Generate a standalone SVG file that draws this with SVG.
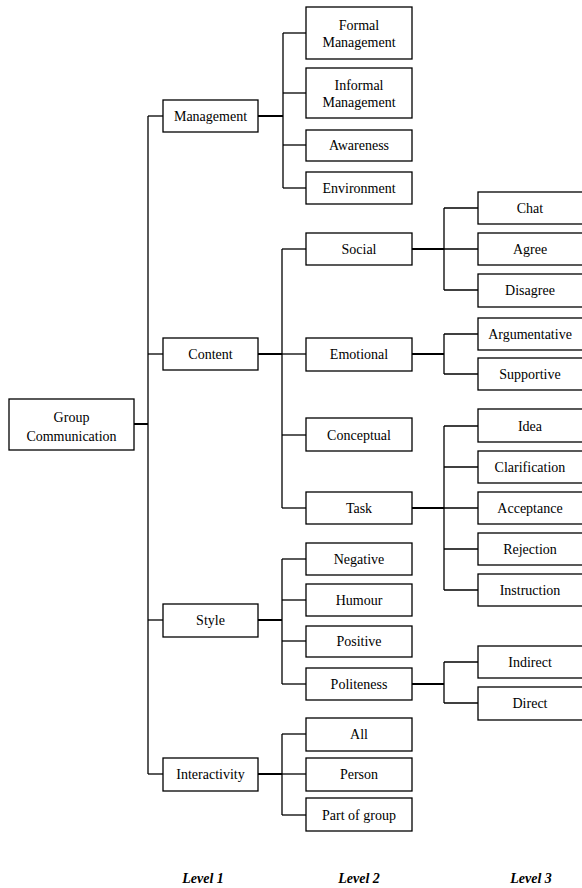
<svg xmlns="http://www.w3.org/2000/svg" width="582" height="888" viewBox="0 0 582 888">
<style>
rect{fill:#fff;stroke:#000;stroke-width:1.3}
text{font-family:"Liberation Serif","Times New Roman",serif;font-size:14px;fill:#000;text-anchor:middle}
.c line{stroke:#000;stroke-width:1.3}
.c .t{stroke-width:2}
.lv{font-weight:bold;font-style:italic}
</style>
<g class="c" id="connectors">
<line x1="148" y1="116" x2="148" y2="774"/>
<line class="t" x1="134" y1="424" x2="148" y2="424"/>
<line x1="148" y1="116" x2="163" y2="116"/>
<line x1="148" y1="354" x2="163" y2="354"/>
<line x1="148" y1="620" x2="163" y2="620"/>
<line x1="148" y1="774" x2="163" y2="774"/>
<line x1="283" y1="33" x2="283" y2="188"/>
<line class="t" x1="258" y1="116" x2="283" y2="116"/>
<line x1="283" y1="33" x2="306" y2="33"/>
<line x1="283" y1="93" x2="306" y2="93"/>
<line x1="283" y1="145" x2="306" y2="145"/>
<line x1="283" y1="188" x2="306" y2="188"/>
<line x1="282" y1="249" x2="282" y2="508"/>
<line class="t" x1="258" y1="354" x2="282" y2="354"/>
<line x1="282" y1="249" x2="306" y2="249"/>
<line x1="282" y1="354" x2="306" y2="354"/>
<line x1="282" y1="435" x2="306" y2="435"/>
<line x1="282" y1="508" x2="306" y2="508"/>
<line x1="444" y1="208" x2="444" y2="290"/>
<line class="t" x1="412" y1="249" x2="444" y2="249"/>
<line x1="444" y1="208" x2="478" y2="208"/>
<line x1="444" y1="249" x2="478" y2="249"/>
<line x1="444" y1="290" x2="478" y2="290"/>
<line x1="444" y1="334" x2="444" y2="374"/>
<line class="t" x1="412" y1="354" x2="444" y2="354"/>
<line x1="444" y1="334" x2="478" y2="334"/>
<line x1="444" y1="374" x2="478" y2="374"/>
<line x1="444" y1="426" x2="444" y2="590"/>
<line class="t" x1="412" y1="508" x2="444" y2="508"/>
<line x1="444" y1="426" x2="478" y2="426"/>
<line x1="444" y1="467" x2="478" y2="467"/>
<line x1="444" y1="508" x2="478" y2="508"/>
<line x1="444" y1="549" x2="478" y2="549"/>
<line x1="444" y1="590" x2="478" y2="590"/>
<line x1="282" y1="559" x2="282" y2="684"/>
<line class="t" x1="258" y1="620" x2="282" y2="620"/>
<line x1="282" y1="559" x2="306" y2="559"/>
<line x1="282" y1="600" x2="306" y2="600"/>
<line x1="282" y1="641" x2="306" y2="641"/>
<line x1="282" y1="684" x2="306" y2="684"/>
<line x1="444" y1="662" x2="444" y2="703"/>
<line class="t" x1="412" y1="684" x2="444" y2="684"/>
<line x1="444" y1="662" x2="478" y2="662"/>
<line x1="444" y1="703" x2="478" y2="703"/>
<line x1="282" y1="734" x2="282" y2="815"/>
<line class="t" x1="258" y1="774" x2="282" y2="774"/>
<line x1="282" y1="734" x2="306" y2="734"/>
<line x1="282" y1="774" x2="306" y2="774"/>
<line x1="282" y1="815" x2="306" y2="815"/>
</g>
<g id="root"><rect x="9" y="399" width="125" height="51"/><text x="71.5" y="422">Group</text><text x="71.5" y="441">Communication</text></g>
<g id="management"><rect x="163" y="100" width="95" height="32"/><text x="210.5" y="121">Management</text></g>
<g id="content"><rect x="163" y="338" width="95" height="32"/><text x="210.5" y="359">Content</text></g>
<g id="style"><rect x="163" y="604" width="95" height="33"/><text x="210.5" y="625">Style</text></g>
<g id="interactivity"><rect x="163" y="758" width="95" height="33"/><text x="210.5" y="779">Interactivity</text></g>
<g id="formal"><rect x="306" y="7" width="106" height="52"/><text x="359" y="30">Formal</text><text x="359" y="47">Management</text></g>
<g id="informal"><rect x="306" y="68" width="106" height="50"/><text x="359" y="90">Informal</text><text x="359" y="107">Management</text></g>
<g id="awareness"><rect x="306" y="130" width="106" height="31"/><text x="359" y="150">Awareness</text></g>
<g id="environment"><rect x="306" y="172" width="106" height="32"/><text x="359" y="193">Environment</text></g>
<g id="social"><rect x="306" y="233" width="106" height="32"/><text x="359" y="254">Social</text></g>
<g id="emotional"><rect x="306" y="338" width="106" height="33"/><text x="359" y="359">Emotional</text></g>
<g id="conceptual"><rect x="306" y="418" width="106" height="33"/><text x="359" y="440">Conceptual</text></g>
<g id="task"><rect x="306" y="492" width="106" height="32"/><text x="359" y="513">Task</text></g>
<g id="negative"><rect x="306" y="543" width="106" height="32"/><text x="359" y="564">Negative</text></g>
<g id="humour"><rect x="306" y="584" width="106" height="32"/><text x="359" y="605">Humour</text></g>
<g id="positive"><rect x="306" y="626" width="106" height="31"/><text x="359" y="646">Positive</text></g>
<g id="politeness"><rect x="306" y="668" width="106" height="32"/><text x="359" y="689">Politeness</text></g>
<g id="all"><rect x="306" y="718" width="106" height="33"/><text x="359" y="739">All</text></g>
<g id="person"><rect x="306" y="758" width="106" height="33"/><text x="359" y="779">Person</text></g>
<g id="partofgroup"><rect x="306" y="798" width="106" height="33"/><text x="359" y="820">Part of group</text></g>
<g id="chat"><rect x="478" y="192" width="106" height="32"/><text x="530" y="213">Chat</text></g>
<g id="agree"><rect x="478" y="233" width="106" height="32"/><text x="530" y="254">Agree</text></g>
<g id="disagree"><rect x="478" y="274" width="106" height="33"/><text x="530" y="295">Disagree</text></g>
<g id="argumentative"><rect x="478" y="318" width="106" height="32"/><text x="530" y="339">Argumentative</text></g>
<g id="supportive"><rect x="478" y="358" width="106" height="32"/><text x="530" y="379">Supportive</text></g>
<g id="idea"><rect x="478" y="409" width="106" height="33"/><text x="530" y="431">Idea</text></g>
<g id="clarification"><rect x="478" y="451" width="106" height="32"/><text x="530" y="472">Clarification</text></g>
<g id="acceptance"><rect x="478" y="492" width="106" height="32"/><text x="530" y="513">Acceptance</text></g>
<g id="rejection"><rect x="478" y="533" width="106" height="32"/><text x="530" y="554">Rejection</text></g>
<g id="instruction"><rect x="478" y="574" width="106" height="32"/><text x="530" y="595">Instruction</text></g>
<g id="indirect"><rect x="478" y="646" width="106" height="32"/><text x="530" y="667">Indirect</text></g>
<g id="direct"><rect x="478" y="687" width="106" height="33"/><text x="530" y="708">Direct</text></g>
<g id="levels">
<text class="lv" x="203" y="883">Level 1</text>
<text class="lv" x="359" y="883">Level 2</text>
<text class="lv" x="531" y="883">Level 3</text>
</g>
</svg>
